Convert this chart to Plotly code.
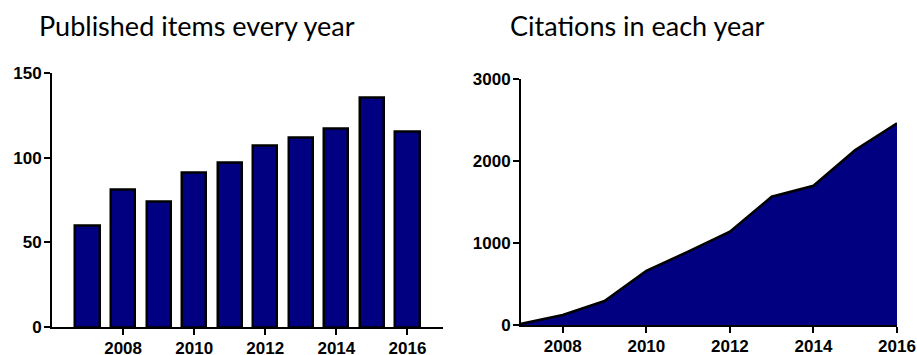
import plotly.graph_objects as go

years = [2007, 2008, 2009, 2010, 2011, 2012, 2013, 2014, 2015, 2016]
published = [60, 81, 74, 91, 97, 107, 112, 117, 135, 115]
citations = [20, 125, 296, 665, 898, 1141, 1568, 1702, 2138, 2463]
x_ticks = [2008, 2010, 2012, 2014, 2016]
left_y_ticks = [0, 50, 100, 150]
right_y_ticks = [0, 1000, 2000, 3000]
title_left = "Published items every year"
title_right = "Citations in each year"

W, H = 917, 355
NAVY = "#000080"

def px_x(p):
    return p / W

def px_y(p):
    return 1 - p / H

fig = go.Figure()
fig.add_trace(go.Bar(x=years, y=published, width=0.68,
                     marker=dict(color=NAVY, line=dict(color="black", width=2.5)),
                     xaxis="x", yaxis="y", showlegend=False))
fig.add_trace(go.Scatter(x=years, y=citations, mode="lines", fill="tozeroy",
                         fillcolor=NAVY, line=dict(color="black", width=2.5),
                         xaxis="x2", yaxis="y2", showlegend=False))

tickfont = dict(family="Liberation Sans, Arial", size=17, color="black", weight="bold")
common = dict(showline=True, linecolor="black", linewidth=2, ticks="outside",
              tickwidth=2, tickcolor="black", ticklen=6, showgrid=False,
              zeroline=False, tickfont=tickfont, automargin=False)

fig.update_layout(
    width=W, height=H, margin=dict(l=0, r=0, t=0, b=0),
    paper_bgcolor="white", plot_bgcolor="white", bargap=0,
    xaxis=dict(domain=[px_x(52), px_x(443)], range=[2006, 2017], tickvals=x_ticks,
               anchor="y", ticklabelstandoff=-2, **common),
    yaxis=dict(domain=[px_y(327.3), px_y(72.7)], range=[0, 150], tickvals=left_y_ticks,
               anchor="x", ticklabelstandoff=-1, **common),
    xaxis2=dict(domain=[px_x(521), px_x(897)], range=[2007, 2016], tickvals=x_ticks,
                anchor="y2", ticklabelstandoff=-2, **common),
    yaxis2=dict(domain=[px_y(325.3), px_y(79.3)], range=[0, 3000], tickvals=right_y_ticks,
                anchor="x2", ticklabelstandoff=-1, **common),
    annotations=[
        dict(text=title_left, x=px_x(37), y=px_y(7), xref="paper", yref="paper",
             xanchor="left", yanchor="top", showarrow=False,
             font=dict(family="Lato", size=27, color="black")),
        dict(text=title_right, x=px_x(508), y=px_y(7), xref="paper", yref="paper",
             xanchor="left", yanchor="top", showarrow=False,
             font=dict(family="Lato", size=27, color="black")),
    ],
)

fig.write_html("out.html")
